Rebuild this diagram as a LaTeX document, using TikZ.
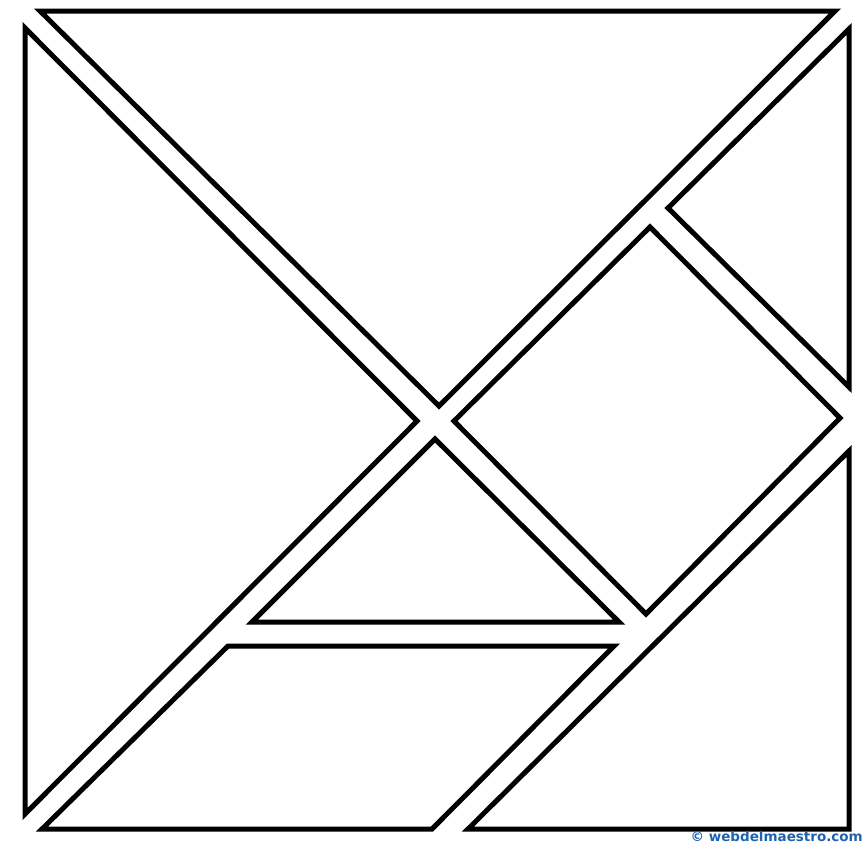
\documentclass[tikz,border=0pt]{standalone}
\usepackage{fontspec}
\newfontfamily\wmfont{DejaVu Sans}
\definecolor{wmblue}{HTML}{1F63B0}
\begin{document}
\begin{tikzpicture}[x=1pt,y=-1pt,
  piece/.style={draw=black,line width=5pt,line join=miter,fill=white},
  wm/.style={text=wmblue,font=\wmfont\bfseries\fontsize{13.5}{13.5}\selectfont,inner sep=0pt,anchor=south east}]
\useasboundingbox (0,0) rectangle (866,844);
% top large triangle
\draw[piece] (40,11) -- (835,11) -- (439,406) -- cycle;
% left large triangle
\draw[piece] (25,28) -- (417,421) -- (25,814) -- cycle;
% top-right small triangle
\draw[piece] (849,29) -- (849,387) -- (668,208) -- cycle;
% square
\draw[piece] (650,227) -- (840,418) -- (646,614) -- (454,421) -- cycle;
% middle small triangle
\draw[piece] (435,439) -- (619,622) -- (252,622) -- cycle;
% parallelogram
\draw[piece] (228,646) -- (614,646) -- (432,829) -- (42,829) -- cycle;
% bottom-right large triangle
\draw[piece] (849,451) -- (849,829) -- (468,829) -- cycle;
% watermark
\node[wm] (wmtext) at (863,842) {© webdelmaestro.com};
\end{tikzpicture}
\end{document}
